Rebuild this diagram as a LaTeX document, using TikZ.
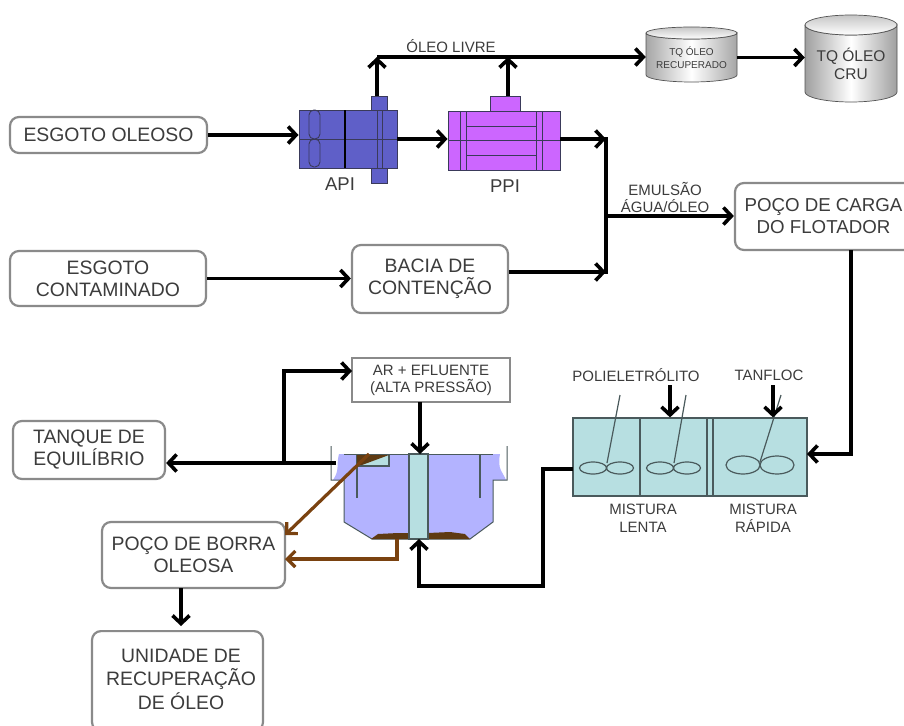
\documentclass[tikz,border=0pt]{standalone}
\usepackage{fontspec}
\setmainfont{Liberation Sans}
\usetikzlibrary{arrows.meta,calc}
\definecolor{txt}{HTML}{3C3C3C}
\definecolor{edge}{HTML}{8A8A8A}
\definecolor{apifill}{HTML}{5F5FC8}
\definecolor{ppifill}{HTML}{CC66FF}
\definecolor{flotfill}{HTML}{B3B3FF}
\definecolor{cyanfill}{HTML}{B7DFE1}
\definecolor{sludge}{HTML}{5E3A12}
\definecolor{brownline}{HTML}{7A4210}
\definecolor{thin}{HTML}{3A3A5A}
\definecolor{mixline}{HTML}{4A5A5C}
\tikzset{
  fs/.style 2 args={font=\fontsize{#1}{#2}\selectfont},
  procbox/.style={draw=edge,line width=2.2pt,rounded corners=9pt,fill=white,text=txt,align=center,inner sep=0pt,fs={19.4}{22}},
  plainbox/.style={draw=edge,line width=1.2pt,fill=white,text=txt,align=center,inner sep=0pt,fs={15}{17}},
  lab/.style={text=txt,align=center,inner sep=0pt},
  flow/.style={draw=black,line width=3.6pt,-{Straight Barb[length=8pt,width=17pt,line width=3.6pt]}},
  flowplain/.style={draw=black,line width=3.6pt},
  sludgeflow/.style={draw=brownline,line width=3.2pt,-{Straight Barb[length=8pt,width=16pt,line width=3.2pt]}},
  thinline/.style={draw=thin,line width=0.9pt},
  mixl/.style={draw=mixline,line width=1.2pt},
  unit/.style={draw=thin,line width=0.9pt,inner sep=0pt},
}
\begin{document}
\begin{tikzpicture}[x=1pt,y=-1pt]
\clip (0,0) rectangle (904,725);
\fill[white] (0,0) rectangle (904,725);

% boxes
\node[procbox,minimum width=197pt,minimum height=36pt] (eo) at (108.5,135) {ESGOTO OLEOSO};
\node[procbox,minimum width=196pt,minimum height=55pt] (ec) at (108,278.5) {ESGOTO\\CONTAMINADO};
\node[procbox,minimum width=156pt,minimum height=68pt] (bc) at (430,279) {BACIA DE\\CONTENÇÃO};
\node[procbox,minimum width=180pt,minimum height=67pt] (pc) at (825,216.5) {};
\node[lab,fs={18.7}{22}] at (823.5,216) {POÇO DE CARGA\\DO FLOTADOR};
\node[procbox,minimum width=152pt,minimum height=58pt] (te) at (89,450) {TANQUE DE\\EQUILÍBRIO};
\node[procbox,minimum width=183pt,minimum height=66pt] (pb) at (193.5,555) {POÇO DE BORRA\\OLEOSA};
\node[procbox,minimum width=171pt,minimum height=100pt,anchor=north] (ur) at (177.5,630) {};
\node[lab,fs={19.4}{23.5}] at (181,679) {UNIDADE DE\\RECUPERAÇÃO\\DE ÓLEO};
\node[plainbox,minimum width=158pt,minimum height=44pt] (ar) at (431,380) {AR + EFLUENTE\\(ALTA PRESSÃO)};

% API
\node[unit,fill=apifill,minimum width=16pt,minimum height=87pt] (apitab) at (379,139.5) {};
\node[unit,fill=apifill,minimum width=98pt,minimum height=58pt] (api) at (348,139) {};
\draw[thinline] (api.west) -- (api.east);
\draw[draw=black,line width=1.8pt] (345,110) -- (345,168);
\draw[thinline,rounded corners=5pt] (309,110) rectangle (320,139);
\draw[thinline,rounded corners=5pt] (309,139) rectangle (320,167);
\draw[thinline] (377,110) -- (377,168) (382,110) -- (382,168);
\node[lab,fs={18.5}{21}] at (340,184) {API};

% PPI
\node[unit,fill=ppifill,minimum width=30pt,minimum height=16pt] (ppitab) at (505,104) {};
\node[unit,fill=ppifill,minimum width=112pt,minimum height=59pt] (ppi) at (504,140.5) {};
\draw[thinline] (ppi.west) -- (ppi.east);
\draw[thinline] (466,126) -- (536,126) (466,155) -- (536,155);
\draw[thinline] (460,111) -- (460,170) (466,111) -- (466,170);
\draw[thinline] (536,111) -- (536,170) (542,111) -- (542,170);
\node[lab,fs={18.5}{21}] at (505,186) {PPI};

% Tanks
\draw[draw=edge!60!black,line width=0.7pt,left color=gray!70,right color=gray!70,middle color=white]
  (646,33) -- (646,75) arc[start angle=180,end angle=0,x radius=45.5,y radius=7] -- (737,33) arc[start angle=0,end angle=180,x radius=45.5,y radius=6];
\draw[draw=edge!60!black,line width=0.7pt,top color=gray!45,bottom color=white] (691.5,33) ellipse[x radius=45.5,y radius=6];
\node[lab,fs={10}{13},minimum width=91pt,minimum height=44pt] (tqr) at (691.5,57.5) {TQ ÓLEO\\RECUPERADO};
\draw[draw=edge!60!black,line width=0.7pt,left color=gray!75,right color=gray!75,middle color=white]
  (805,25) -- (805,92) arc[start angle=180,end angle=0,x radius=46,y radius=10] -- (897,25) arc[start angle=0,end angle=180,x radius=46,y radius=10];
\draw[draw=edge!60!black,line width=0.7pt,top color=gray!45,bottom color=white] (851,25) ellipse[x radius=46,y radius=10];
\node[lab,fs={15.5}{18},minimum width=92pt,minimum height=50pt] (tqc) at (851,64) {TQ ÓLEO\\CRU};

% Flotator
\fill[flotfill] (339,454) -- (500,454) .. controls (497,470) and (503,472) .. (506,480) -- (493,480) -- (493,522) -- (470,539) -- (372,539) -- (344,522) -- (344,480) -- (333,480) .. controls (340,470) and (336,465) .. (339,454) -- cycle;
\draw[draw=mixline,line width=1pt] (331,446) -- (331,480) -- (344,480) -- (344,522) -- (372,539) -- (470,539) -- (493,522) -- (493,480) -- (507,480) -- (507,446);
\draw[draw=mixline,line width=1pt] (344,454) -- (493,454);
\fill[sludge] (371,539) -- (378,534) -- (398,533) -- (409,533) -- (409,539) -- cycle;
\fill[sludge] (428,539) -- (428,533) -- (450,532) -- (465,534) -- (470,539) -- cycle;
\draw[mixl] (357,454) -- (357,498) (480,454) -- (480,498);
\fill[cyanfill] (357,455) rectangle (389,466);
\draw[mixl] (389,455) -- (389,466) -- (357,466);
\fill[sludge] (357,455) -- (389,455) -- (362,465) -- (357,465) -- cycle;
\node[draw=mixline,line width=1.2pt,fill=cyanfill,inner sep=0pt,minimum width=19pt,minimum height=85pt] (col) at (418.5,496.5) {};

% Mixing tank
\node[draw=mixline,line width=1.2pt,fill=cyanfill,inner sep=0pt,minimum width=234pt,minimum height=78pt] (mix) at (690,457) {};
\draw[mixl] (640,418) -- (640,496) (707,418) -- (707,496) (713,418) -- (713,496);
\draw[mixl] (593,468) ellipse[x radius=13.5,y radius=6] (620,468) ellipse[x radius=13.5,y radius=6];
\draw[mixl] (660,468) ellipse[x radius=13.5,y radius=6] (687,468) ellipse[x radius=13.5,y radius=6];
\draw[mixl] (743,465) ellipse[x radius=17,y radius=9] (777,465) ellipse[x radius=17,y radius=9];
\draw[mixl] (620,395) -- (607,463) (686,395) -- (674,463) (781,395) -- (760,462);
\node[lab,fs={15}{17}] at (636,375) {POLIELETRÓLITO};
\node[lab,fs={15}{17}] at (769,375) {TANFLOC};
\node[lab,fs={15}{18}] at (643,518) {MISTURA\\LENTA};
\node[lab,fs={15}{18}] at (763,518) {MISTURA\\RÁPIDA};
\coordinate (pol) at (670,385);
\coordinate (tan) at (773,385);

% Labels
\node[lab,fs={15}{17}] at (451,46) {ÓLEO LIVRE};
\node[lab,fs={15}{17}] at (665,197) {EMULSÃO\\ÁGUA/ÓLEO};

% Connectors
\coordinate (jo) at (377,57);
\coordinate (jm) at (606,216);
\coordinate (jt) at (606,139);
\coordinate (jb) at (606,272);
\coordinate (je) at (284,463);
\draw[flow] (eo.east) -- (eo.east -| api.west);
\draw[flow] (api.east) -- (api.east -| ppi.west);
\draw[flow] (ec.east) -- (ec.east -| bc.west);
\draw[flow] (ppi.east |- jt) -- (jt);
\draw[flow] (bc.east |- jb) -- (jb);
\draw[flowplain,line cap=rect] (jt) -- (jb);
\draw[flow] (jm) -- (jm -| pc.west);
\draw[flow] (apitab.north -| jo) -- (jo);
\draw[flow] (508,96) -- (508,57);
\draw[flow] (jo) -- (jo -| tqr.west);
\draw[flow] (tqr.east) -- (tqr.east -| tqc.west);
\draw[flow] (851,250) -- (851,454) -- (807,454);
\draw[flow] (pol) -- (pol |- mix.north);
\draw[flow] (tan) -- (tan |- mix.north);
\draw[flow] (573,469) -- (543,469) -- (543,586) -- (419,586) -- (419,539);
\draw[flow] (420,402) -- (420,454);
\draw[flow] (336,463) -- (te.east |- je);
\draw[flow] (je) -- (284,371) -- (352,371);
\draw[sludgeflow] (369,454) -- (285,535);
\draw[sludgeflow] (397,539) -- (397,559) -- (285,559);
\draw[flow] (181,588) -- (181,626);
\end{tikzpicture}
\end{document}
